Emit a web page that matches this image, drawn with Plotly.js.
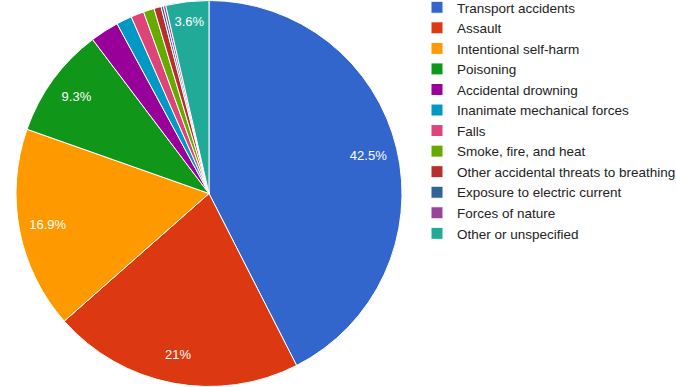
<!DOCTYPE html>
<html><head><meta charset="utf-8">
<script src="https://cdn.plot.ly/plotly-3.0.1.min.js"></script>
<style>html,body{margin:0;padding:0;background:#fff;overflow:hidden}#chart{width:676px;height:387px}</style>
</head><body><div id="chart"></div>
<script>
const categories = ["Transport accidents","Assault","Intentional self-harm","Poisoning","Accidental drowning","Inanimate mechanical forces","Falls","Smoke, fire, and heat","Other accidental threats to breathing","Exposure to electric current","Forces of nature","Other or unspecified"];
const values = [42.5, 21.0, 16.9, 9.3, 2.4, 1.3, 1.1, 0.9, 0.6, 0.2, 0.2, 3.6];
const sliceLabels = ["42.5%","21%","16.9%","9.3%","","","","","","","","3.6%"];
const colors = ["#3366cc","#dc3912","#ff9900","#109618","#990099","#0099c6","#dd4477","#66aa00","#b82e2e","#316395","#994499","#22aa99"];

const W = 676, H = 387;
const dom = {x: [16/W, 402/W], y: [0, 1]};
const fontFam = 'Liberation Sans, Arial, sans-serif';

Plotly.newPlot('chart', [{
  type: 'pie',
  labels: categories,
  values: values,
  textinfo: 'none',
  sort: false,
  direction: 'clockwise',
  rotation: 0,
  marker: {colors: colors, line: {color: '#ffffff', width: 1}},
  domain: dom,
  hoverinfo: 'label+percent'
}, {
  type: 'pie',
  labels: categories,
  values: values,
  text: sliceLabels,
  textinfo: 'text',
  textposition: 'inside',
  insidetextorientation: 'horizontal',
  insidetextfont: {color: '#ffffff', size: 13, family: fontFam},
  hole: 0.7,
  sort: false,
  direction: 'clockwise',
  rotation: 0,
  showlegend: false,
  marker: {colors: colors.map(() => 'rgba(0,0,0,0)'), line: {width: 0}},
  domain: dom,
  hoverinfo: 'skip'
}], {
  width: W, height: H,
  margin: {l: 0, r: 0, t: 0, b: 0, autoexpand: false},
  paper_bgcolor: '#ffffff',
  showlegend: true,
  legend: {x: 417/W, y: (H + 8) / H, xanchor: 'left', yanchor: 'top', maxheight: 1,
           bgcolor: 'rgba(0,0,0,0)',
           font: {size: 13.5, color: '#222222', family: fontFam}, tracegroupgap: 0},
  font: {family: fontFam}
}, {displayModeBar: false, staticPlot: true});
</script></body></html>
